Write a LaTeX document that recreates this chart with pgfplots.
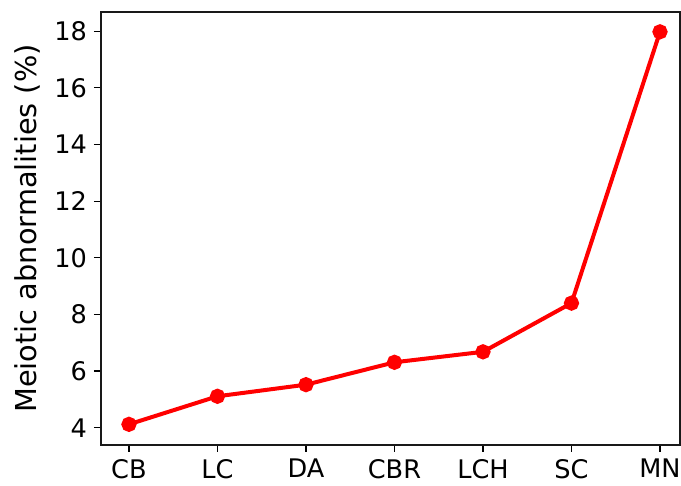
\documentclass[border=0pt]{standalone}
\usepackage{pgfplots}
\pgfplotsset{compat=1.18}
\usepackage{fontspec}
\setmainfont{DejaVu Sans}
\begin{document}
\begin{tikzpicture}
\useasboundingbox (-50.5pt,-20.5pt) rectangle (290pt,222.5pt);
\begin{axis}[
  at={(0,0)}, anchor=south west,
  scale only axis,
  width=289.5pt, height=216.5pt,
  xmin=-0.316, xmax=6.226,
  ymin=3.39, ymax=18.68,
  xtick={0,1,2,3,4,5,6},
  xticklabels={CB,LC,DA,CBR,LCH,SC,MN},
  ytick={4,6,8,10,12,14,16,18},
  tick align=outside,
  xtick pos=bottom, ytick pos=left,
  major tick length=3.5pt,
  every tick/.style={black, line width=0.6pt},
  axis line style={line width=0.7pt, black!90},
  /pgf/number format/assume math mode=true,
  tick label style={font=\fontsize{12.8pt}{14pt}\selectfont, text=black},
  ylabel={Meiotic abnormalities (\%)},
  every axis y label/.style={at={(axis description cs:0,0.5)}, rotate=90, anchor=base, yshift=32pt, font=\fontsize{14.4pt}{16pt}\selectfont, text=black},
  clip=false,
]
\addplot[red, line width=2pt, mark=*, mark size=2.8pt, mark options={fill=red, draw=none}]
  coordinates {(0,4.12) (1,5.11) (2,5.52) (3,6.31) (4,6.68) (5,8.40) (6,17.98)};
\end{axis}
\end{tikzpicture}
\end{document}
